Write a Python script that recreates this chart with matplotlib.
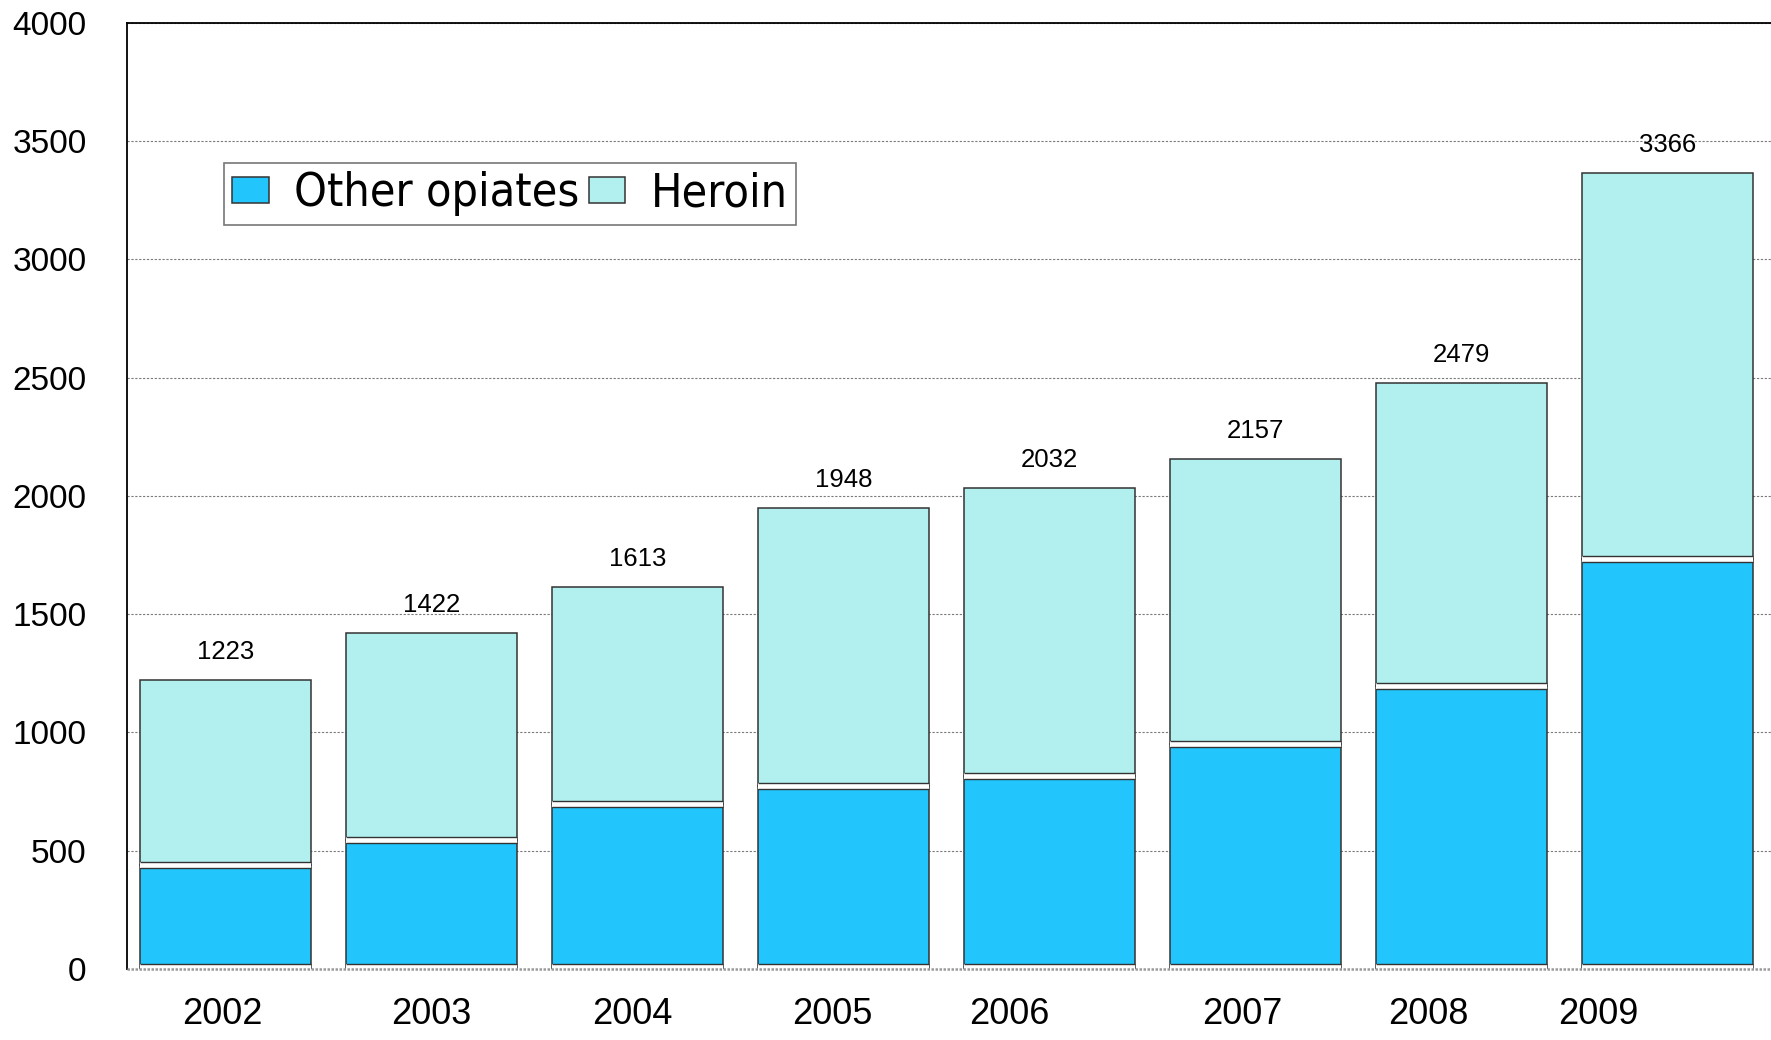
import matplotlib
matplotlib.use("Agg")
import matplotlib.pyplot as plt
from matplotlib.transforms import offset_copy
import numpy as np

# ---- data ----
years = ["2002", "2003", "2004", "2005", "2006", "2007", "2008", "2009"]
other_opiates = [441, 544, 699, 773, 816, 952, 1198, 1733]
heroin = [782, 878, 914, 1175, 1216, 1205, 1281, 1633]
totals = [1223, 1422, 1613, 1948, 2032, 2157, 2479, 3366]
yticks = [0, 500, 1000, 1500, 2000, 2500, 3000, 3500, 4000]

# ---- style ----
c_other = "#22C6FD"
c_heroin = "#B2EFEF"
edge = "#333333"
bar_w = 0.83
label_shift = [-0.015, -0.001, -0.025, -0.055, -0.194, -0.065, -0.161, -0.339]

fig = plt.figure(figsize=(17.71, 10.40), dpi=100)
ax = fig.add_axes([127 / 1771, 1 - 969 / 1040, 1 - 127 / 1771, (969 - 22.7) / 1040])

x = np.arange(len(years))
ax.bar(x, other_opiates, width=bar_w, color=c_other, edgecolor=edge, linewidth=1.1,
       zorder=2, label="Other opiates")
ax.bar(x, heroin, bottom=other_opiates, width=bar_w, color=c_heroin, edgecolor=edge,
       linewidth=1.1, zorder=2, label="Heroin")

# white gaps between stacked segments and above the baseline
left = x - bar_w / 2
right = x + bar_w / 2
ax.hlines(other_opiates, left, right, colors="white", linewidth=6 * 0.72, zorder=3)
ax.hlines(other_opiates, left, right, colors=edge, linewidth=1.0, zorder=4,
          transform=offset_copy(ax.transData, fig=fig, y=3, units="dots"))
ax.hlines(other_opiates, left, right, colors=edge, linewidth=1.0, zorder=4,
          transform=offset_copy(ax.transData, fig=fig, y=-3, units="dots"))
zeros = [0] * len(years)
ax.hlines(zeros, left, right, colors="white", linewidth=10 * 0.72, zorder=3)
ax.hlines(zeros, left, right, colors=edge, linewidth=1.0, zorder=4,
          transform=offset_copy(ax.transData, fig=fig, y=5, units="dots"))

# total labels
for xi, t in zip(x, totals):
    ax.annotate(str(t), (xi, t), xytext=(0, 28), textcoords="offset pixels",
                ha="center", va="center", fontsize=18.5, family="Liberation Sans",
                color="black", zorder=6)

ax.set_xlim(-0.478, 7.5)
ax.set_ylim(0, 4000)
ax.set_yticks(yticks)
ax.set_yticklabels([str(v) for v in yticks], fontsize=24, family="Liberation Sans")
ax.set_xticks(x + np.array(label_shift))
ax.set_xticklabels(years, fontsize=26, family="Liberation Sans")
ax.tick_params(axis="both", length=0)
ax.tick_params(axis="y", pad=29)
ax.tick_params(axis="x", pad=20)

for v in yticks[1:]:
    ax.axhline(v, color="#7a7a7a", linewidth=0.8, linestyle=(0, (2, 1.5)), zorder=1)
ax.axhline(0, color="#9a9a9a", linewidth=1.8, linestyle=(0, (1, 0.6)), zorder=5,
           clip_on=False)

for s in ["right", "bottom"]:
    ax.spines[s].set_visible(False)
ax.spines["left"].set_color("black")
ax.spines["left"].set_linewidth(1.3)
ax.spines["top"].set_color("black")
ax.spines["top"].set_linewidth(1.3)

leg = ax.legend(loc="upper left", bbox_to_anchor=(224 / 1771, 1 - 163 / 1040),
                bbox_transform=fig.transFigure, ncol=2, frameon=True, fancybox=False,
                prop=dict(family="DejaVu Sans", size=33.5, stretch="condensed"),
                handlelength=0.78, handleheight=0.5, handletextpad=0.55,
                columnspacing=0.2, borderpad=0.18, borderaxespad=0)
leg.get_frame().set_edgecolor("#555555")
leg.get_frame().set_linewidth(1.2)
for h in leg.legend_handles:
    h.set_edgecolor(edge)

fig.savefig("out.png", dpi=100)
